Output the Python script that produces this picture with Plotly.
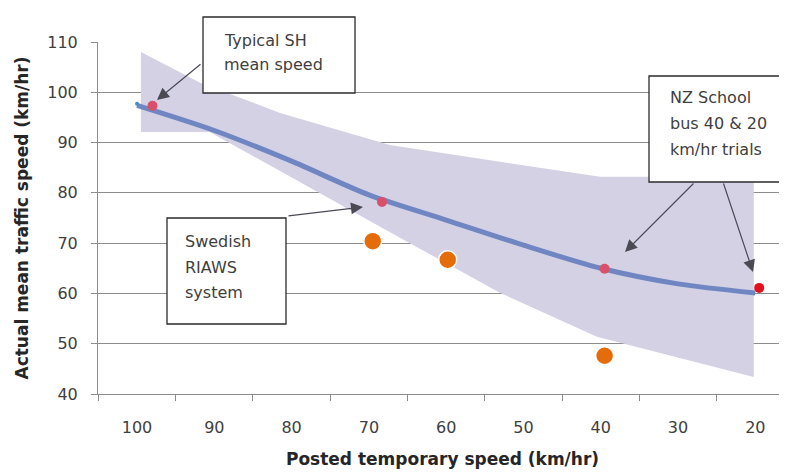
import plotly.graph_objects as go

# ---------------- data ----------------
speed_ticks = [100, 90, 80, 70, 60, 50, 40, 30, 20]
tick_labels = ["100", "90", "80", "70", "60", "50", "40", "30", "20"]

# fitted mean-speed curve
curve_x = [100, 90, 80, 70, 60, 50, 40, 30, 20]
curve_y = [97.4, 92.4, 86.3, 79.6, 74.6, 69.6, 65.0, 61.9, 60.1]

# shaded range (upper and lower edges)
band_upper_x = [99.5, 91.7, 81.5, 67.3, 40.1, 20.2]
band_upper_y = [108.0, 101.8, 95.9, 89.5, 83.2, 83.2]
band_lower_x = [99.5, 90.6, 64.7, 53.0, 40.5, 36.2, 20.2]
band_lower_y = [92.1, 92.1, 70.0, 60.1, 51.4, 49.8, 43.4]

# observed points on the curve
obs_x = [98.0, 68.3, 39.5]
obs_y = [97.3, 78.2, 64.9]
nz20_x = [19.5]
nz20_y = [61.1]

# other trials (orange)
other_x = [69.5, 59.8, 39.5]
other_y = [70.4, 66.7, 47.6]

# tiny start marker
start_x = [100.0]
start_y = [97.7]

box_texts = [
    ["Typical SH", "mean speed"],
    ["Swedish", "RIAWS", "system"],
    ["NZ School", "bus 40 & 20", "km/hr trials"],
]

# ---------------- layout helpers (pixel layout, window coords) ----------------
W, H = 787, 472
OFF = 8  # page body margin
PL, PR, PT, PB = 98, 787, 42, 394


def paper(px, py):
    return (px - PL) / (PR - PL), (PB - py) / (PB - PT)


FONT = "'DejaVu Sans', Verdana, sans-serif"
TXT = "#404040"

fig = go.Figure()

band_x = band_upper_x + band_lower_x[::-1]
band_y = band_upper_y + band_lower_y[::-1]
fig.add_trace(go.Scatter(x=band_x, y=band_y, fill="toself", mode="lines",
                         line=dict(width=0), fillcolor="rgb(212,209,229)",
                         hoverinfo="skip", showlegend=False))
fig.add_trace(go.Scatter(x=curve_x, y=curve_y, mode="lines",
                         line=dict(color="#6f86c2", width=5, shape="spline", smoothing=0.8),
                         showlegend=False))
fig.add_trace(go.Scatter(x=start_x, y=start_y, mode="markers",
                         marker=dict(color="#3f8fc0", size=4), showlegend=False))
fig.add_trace(go.Scatter(x=obs_x, y=obs_y, mode="markers",
                         marker=dict(color="#d9506a", size=10), showlegend=False))
fig.add_trace(go.Scatter(x=nz20_x, y=nz20_y, mode="markers",
                         marker=dict(color="#e5101e", size=10), showlegend=False))
fig.add_trace(go.Scatter(x=other_x, y=other_y, mode="markers",
                         marker=dict(color="#e46c0a", size=18,
                                     line=dict(color="white", width=1.5)),
                         showlegend=False))

# boxes: (left, top, right, bottom) in px, text left px, line centres px
boxes = [
    ((203, 17, 355, 93), 222, [40, 64]),
    ((167, 218, 286, 324), 183, [241, 267, 292]),
    ((649, 76, 783, 182), 668, [98, 124, 149]),
]
shapes = []
annotations = []
for (l, t, r, b), tx, lines_y in boxes:
    x0, y1 = paper(l, t)
    x1, y0 = paper(r, b)
    shapes.append(dict(type="rect", xref="paper", yref="paper", x0=x0, x1=x1, y0=y0, y1=y1,
                       line=dict(color="#2b2b2b", width=1.3), fillcolor="white", layer="above"))
for i, ((l, t, r, b), tx, lines_y) in enumerate(boxes):
    for txt, ly in zip(box_texts[i], lines_y):
        ax_, ay_ = paper(tx, ly)
        annotations.append(dict(x=ax_, y=ay_, xref="paper", yref="paper", text=txt,
                                showarrow=False, xanchor="left", yanchor="middle",
                                font=dict(family=FONT, size=16, color=TXT)))

# arrows: tail px -> head px
arrows = [((202, 63), (157, 100)), ((287, 216), (363, 207)),
          ((695, 182), (625, 252)), ((723, 182), (753, 272))]
for (tx_, ty_), (hx, hy) in arrows:
    px_, py_ = paper(hx, hy)
    annotations.append(dict(x=px_, y=py_, xref="paper", yref="paper", text="",
                            showarrow=True, ax=tx_ - hx, ay=ty_ - hy, axref="pixel", ayref="pixel",
                            arrowhead=2, arrowsize=2, arrowwidth=1.2, arrowcolor="#4a4a55"))

fig.update_layout(
    width=W - OFF, height=H - OFF,
    margin=dict(l=PL - OFF, r=W - PR, t=PT - OFF, b=H - PB),
    paper_bgcolor="white", plot_bgcolor="white",
    font=dict(family=FONT, color=TXT),
    shapes=shapes, annotations=annotations,
    showlegend=False,
)
fig.update_xaxes(
    automargin=False,
    range=[105.05, 15.9], tickmode="array", tickvals=speed_ticks, ticktext=tick_labels,
    ticks="", ticklabelstandoff=19, tickfont=dict(size=16, color=TXT, family=FONT),
    showgrid=False, zeroline=False, showline=True, linecolor="#8c8c8c", linewidth=1,
    minor=dict(tickmode="array", tickvals=[105, 95, 85, 75, 65, 55, 45, 35, 25],
               ticks="outside", ticklen=6, tickcolor="#8c8c8c", showgrid=False),
    title=dict(text="<b>Posted temporary speed (km/hr)</b>", standoff=16,
               font=dict(size=17, color="#262626", family=FONT)),
)
fig.update_yaxes(
    automargin=False,
    range=[40, 110], dtick=10, tick0=40, ticks="outside", ticklen=6, tickcolor="#8c8c8c",
    ticklabelstandoff=10, tickfont=dict(size=16, color=TXT, family=FONT),
    showgrid=True, gridcolor="#8c8c8c", gridwidth=1, zeroline=False,
    showline=True, linecolor="#8c8c8c", linewidth=1,
    title=dict(text="<b>Actual mean traffic speed (km/hr)</b>", standoff=14,
               font=dict(size=17, color="#262626", family=FONT)),
)

fig.write_html("out.html")
